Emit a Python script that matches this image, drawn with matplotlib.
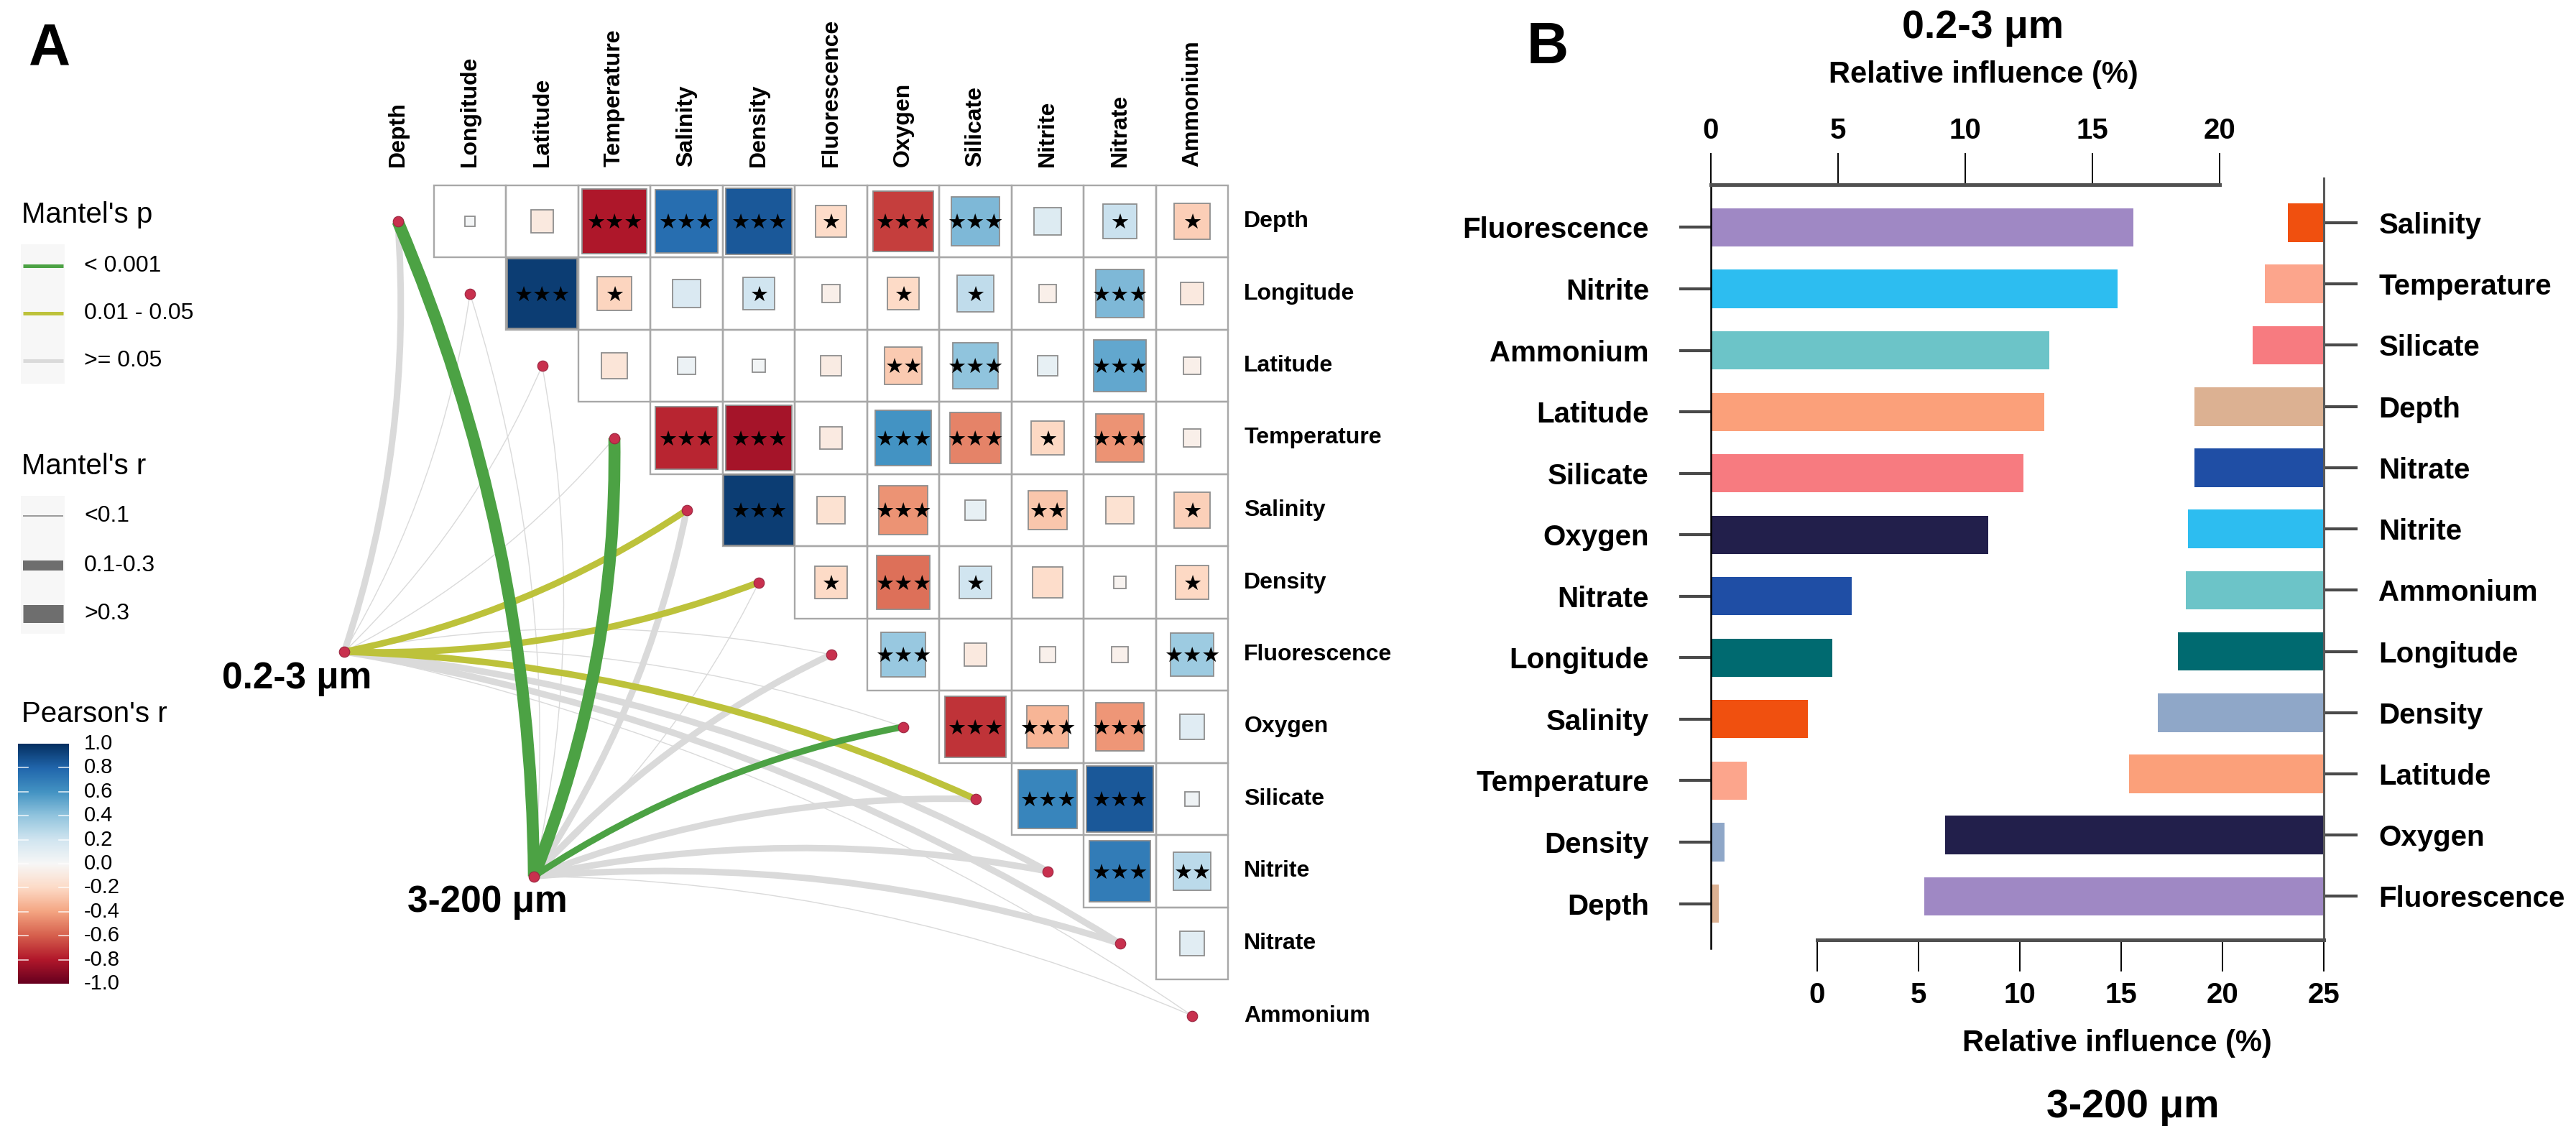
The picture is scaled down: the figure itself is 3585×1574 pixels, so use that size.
import numpy as np
import matplotlib
matplotlib.use('Agg')
import matplotlib.pyplot as plt
from matplotlib.path import Path
from matplotlib.patches import PathPatch, Rectangle

plt.rcParams['font.family'] = ['Liberation Sans', 'DejaVu Sans']

# ---------------- DATA ----------------
variables = ['Depth', 'Longitude', 'Latitude', 'Temperature', 'Salinity', 'Density',
             'Fluorescence', 'Oxygen', 'Silicate', 'Nitrite', 'Nitrate', 'Ammonium']

# Pearson's r, upper triangle: row i holds columns i+1 .. 11
r_rows = [
    [0.02, -0.10, -0.81, 0.76, 0.85, -0.19, -0.69, 0.45, 0.14, 0.22, -0.25],
    [0.95, -0.22, 0.15, 0.20, -0.06, -0.20, 0.25, -0.06, 0.45, -0.10],
    [-0.13, 0.06, 0.03, -0.08, -0.26, 0.40, 0.08, 0.52, -0.06],
    [-0.76, -0.83, -0.09, 0.60, -0.50, -0.21, -0.45, -0.06],
    [0.95, -0.15, -0.45, 0.08, -0.28, -0.15, -0.24],
    [-0.20, -0.55, 0.20, -0.18, -0.03, -0.21],
    [0.38, -0.10, -0.05, -0.05, 0.36],
    [-0.72, -0.34, -0.44, 0.12],
    [0.66, 0.85, 0.04],
    [0.70, 0.27],
    [0.11],
]
star_rows = [
    ['', '', '***', '***', '***', '*', '***', '***', '', '*', '*'],
    ['***', '*', '', '*', '', '*', '*', '', '***', ''],
    ['', '', '', '', '**', '***', '', '***', ''],
    ['***', '***', '', '***', '***', '*', '***', ''],
    ['***', '', '***', '', '**', '', '*'],
    ['*', '***', '*', '', '', '*'],
    ['***', '', '', '', '***'],
    ['***', '***', '***', ''],
    ['***', '***', ''],
    ['***', '**'],
    [''],
]

mantel_groups = ['0.2-3 μm', '3-200 μm']
mantel_p = {
    '0.2-3 μm': ['>=0.05', '>=0.05', '>=0.05', '>=0.05', '0.01-0.05', '0.01-0.05',
                 '>=0.05', '>=0.05', '0.01-0.05', '>=0.05', '>=0.05', '>=0.05'],
    '3-200 μm': ['<0.001', '>=0.05', '>=0.05', '<0.001', '>=0.05', '>=0.05',
                 '>=0.05', '<0.001', '>=0.05', '>=0.05', '>=0.05', '>=0.05'],
}
mantel_r = {
    '0.2-3 μm': ['0.1-0.3', '<0.1', '<0.1', '<0.1', '0.1-0.3', '0.1-0.3',
                 '<0.1', '<0.1', '0.1-0.3', '0.1-0.3', '0.1-0.3', '<0.1'],
    '3-200 μm': ['>0.3', '<0.1', '<0.1', '>0.3', '0.1-0.3', '<0.1',
                 '0.1-0.3', '0.1-0.3', '0.1-0.3', '0.1-0.3', '0.1-0.3', '<0.1'],
}

p_legend_labels = ['< 0.001', '0.01 - 0.05', '>= 0.05']
r_legend_labels = ['<0.1', '0.1-0.3', '>0.3']
cbar_ticks = [1.0, 0.8, 0.6, 0.4, 0.2, 0.0, -0.2, -0.4, -0.6, -0.8, -1.0]

# Panel B
small_vars = ['Fluorescence', 'Nitrite', 'Ammonium', 'Latitude', 'Silicate', 'Oxygen',
              'Nitrate', 'Longitude', 'Salinity', 'Temperature', 'Density', 'Depth']
small_vals = [16.6, 16.0, 13.3, 13.1, 12.3, 10.9, 5.55, 4.77, 3.8, 1.4, 0.55, 0.3]
large_vars = ['Salinity', 'Temperature', 'Silicate', 'Depth', 'Nitrate', 'Nitrite',
              'Ammonium', 'Longitude', 'Density', 'Latitude', 'Oxygen', 'Fluorescence']
large_vals = [1.77, 2.9, 3.5, 6.4, 6.4, 6.7, 6.8, 7.2, 8.2, 9.6, 18.7, 19.7]
top_ticks = [0, 5, 10, 15, 20]
bottom_ticks = [0, 5, 10, 15, 20, 25]

# ---------------- STYLE ----------------
var_colors = {
    'Fluorescence': '#9F88C4', 'Nitrite': '#2DBDF0', 'Ammonium': '#6CC4C8',
    'Latitude': '#FBA07A', 'Silicate': '#F77B80', 'Oxygen': '#221F4B',
    'Nitrate': '#1F4EA5', 'Longitude': '#006A70', 'Salinity': '#F0500F',
    'Temperature': '#FCA58C', 'Density': '#8FA7C8', 'Depth': '#DCB192',
}
p_colors = {'<0.001': '#4CA244', '0.01-0.05': '#BDC23B', '>=0.05': '#DADADA'}
p_keys = ['<0.001', '0.01-0.05', '>=0.05']
r_widths = {'<0.1': 1.0, '0.1-0.3': 6.5, '>0.3': 12.0}
r_keys = ['<0.1', '0.1-0.3', '>0.3']
dot_color = '#C8304E'

W, H, DPI = 3585, 1574, 100
fig = plt.figure(figsize=(W / DPI, H / DPI), dpi=DPI)
fig.patch.set_facecolor('white')


def fig_rect(x0, y0, x1, y1):
    return [x0 / W, 1 - y1 / H, (x1 - x0) / W, (y1 - y0) / H]


ax_f = fig.add_axes([0, 0, 1, 1])
ax_f.set_xlim(0, W)
ax_f.set_ylim(H, 0)
ax_f.axis('off')

# ---------------- PANEL A : heatmap ----------------
CELL = 100.5
hx0, hy0 = 503.25, 257.75
n = len(variables)
ax_h = fig.add_axes(fig_rect(hx0, hy0, hx0 + n * CELL, hy0 + n * CELL))
ax_h.set_xlim(-0.5, n - 0.5)
ax_h.set_ylim(n - 0.5, -0.5)
ax_h.axis('off')
ax_h.patch.set_alpha(0)

cmap = plt.get_cmap('RdBu')
for i, (vals, stars) in enumerate(zip(r_rows, star_rows)):
    for k, (r, s) in enumerate(zip(vals, stars)):
        j = i + 1 + k
        ax_h.add_patch(Rectangle((j - 0.5, i - 0.5), 1, 1, fill=False, ec='#A8A8A8',
                                 lw=1.7, zorder=2, clip_on=False))
        side = min(np.sqrt(abs(r)), 0.97)
        ax_h.add_patch(Rectangle((j - side / 2, i - side / 2), side, side,
                                 fc=cmap((r + 1) / 2), ec='#8E8E8E', lw=1.3,
                                 zorder=3, clip_on=False))
        if s:
            ax_h.text(j, i + 0.03, '★' * len(s), ha='center', va='center',
                      fontsize=21, color='black', zorder=4,
                      family=['DejaVu Sans'])

# Mantel links
nodes = {'0.2-3 μm': (-0.74, 5.96), '3-200 μm': (1.886, 9.07)}


def draw_link(p0, p1, sign, color, lw, z):
    p0 = np.asarray(p0, float)
    p1 = np.asarray(p1, float)
    d = p1 - p0
    nrm = np.array([-d[1], d[0]])
    ctrl = (p0 + p1) / 2 + sign * 0.1 * nrm
    path = Path([p0, ctrl, p1], [Path.MOVETO, Path.CURVE3, Path.CURVE3])
    ax_h.add_patch(PathPatch(path, fill=False, ec=color, lw=lw, zorder=z,
                             capstyle='butt', clip_on=False))


links = []
for g in mantel_groups:
    for idx in range(n):
        links.append((g, idx, mantel_p[g][idx], mantel_r[g][idx]))
for g, idx, pc, rc in links:
    sign = 1 if idx < 6 else -1
    z = 1.0 + (2 - p_keys.index(pc)) * 0.1 + r_keys.index(rc) * 0.01
    draw_link(nodes[g], (idx, idx), sign, p_colors[pc], r_widths[rc], z)

ax_h.scatter(range(n), range(n), s=110, c=dot_color, edgecolors='#9A2540',
             linewidths=0.8, zorder=5, clip_on=False)
for g in mantel_groups:
    ax_h.scatter([nodes[g][0]], [nodes[g][1]], s=110, c=dot_color, edgecolors='#9A2540',
                 linewidths=0.8, zorder=5, clip_on=False)

ax_h.text(-0.36, 6.33, mantel_groups[0], ha='right', va='center', fontsize=37,
          fontweight='bold', zorder=6)
ax_h.text(1.24, 9.43, mantel_groups[1], ha='center', va='center', fontsize=37,
          fontweight='bold', zorder=6)

for j, v in enumerate(variables):
    ax_h.text(j, -0.76, v, rotation=90, ha='center', va='bottom', fontsize=23,
              fontweight='bold')
    ax_h.text(11.72, j, v, ha='left', va='center', fontsize=23, fontweight='bold')

# ---------------- PANEL A : legends ----------------
ax_f.text(40, 89, 'A', fontsize=58, fontweight='bold', ha='left', va='baseline')

ax_f.text(30, 310, "Mantel's p", fontsize=29, ha='left', va='baseline')
ax_f.add_patch(Rectangle((29, 340), 61, 194, fc='#F7F7F7', ec='none'))
for yk, key, lab in zip([370, 436, 502], p_keys, p_legend_labels):
    ax_f.plot([32, 88], [yk, yk], color=p_colors[key], lw=3.6, solid_capstyle='butt')
    ax_f.text(117, yk, lab, fontsize=23, ha='left', va='center')

ax_f.text(30, 660, "Mantel's r", fontsize=29, ha='left', va='baseline')
ax_f.add_patch(Rectangle((29, 690), 61, 192, fc='#F7F7F7', ec='none'))
for yk, key, lab, lwk in zip([718, 787, 854], r_keys, r_legend_labels, [1.4, 10, 18]):
    ax_f.plot([32, 88], [yk, yk], color='#6E6E6E' if key != '<0.1' else '#9A9A9A',
              lw=lwk, solid_capstyle='butt')
    ax_f.text(117, yk, lab, fontsize=23, ha='left', va='center')

ax_f.text(30, 1005, "Pearson's r", fontsize=29, ha='left', va='baseline')
cb_top, cb_bot, cb_l, cb_r = 1035, 1369, 25, 96
ax_c = fig.add_axes(fig_rect(cb_l, cb_top, cb_r, cb_bot))
grad = np.linspace(-1, 1, 256)[:, None]
ax_c.imshow(grad, cmap=cmap, vmin=-1, vmax=1, aspect='auto', extent=[0, 1, -1, 1],
            origin='lower')
ax_c.set_xlim(0, 1)
ax_c.set_ylim(-1, 1)
ax_c.axis('off')
for v in cbar_ticks:
    if abs(v) < 1:
        ax_c.plot([0, 0.2], [v, v], color='white', lw=1.2, alpha=0.8)
        ax_c.plot([0.8, 1], [v, v], color='white', lw=1.2, alpha=0.8)
    yv = cb_top + (1 - v) / 2 * (cb_bot - cb_top)
    ax_f.text(117, yv, f'{v:.1f}', fontsize=21, ha='left', va='center')

# ---------------- PANEL B ----------------
ax_f.text(2125, 88, 'B', fontsize=58, fontweight='bold', ha='left', va='baseline')

# left (0.2-3 um)
ax_l = fig.add_axes(fig_rect(2381, 257, 3089, 1320))
ax_l.patch.set_alpha(0)
ax_l.set_xlim(0, 20)
ax_l.set_ylim(11.73, -0.695)
ax_l.barh(range(len(small_vars)), small_vals, height=0.62,
          color=[var_colors[v] for v in small_vars], zorder=1)
for s in ['right', 'bottom']:
    ax_l.spines[s].set_visible(False)
ax_l.spines['top'].set_linewidth(3.6)
ax_l.spines['top'].set_color('#505050')
ax_l.spines['left'].set_linewidth(1.8)
ax_l.spines['left'].set_color('black')
ax_l.xaxis.tick_top()
ax_l.set_xticks(top_ticks)
ax_l.set_xticklabels([str(t) for t in top_ticks], fontsize=29, fontweight='bold')
ax_l.tick_params(axis='x', direction='out', length=32, width=1.4, color='black', pad=8)
ax_l.set_yticks(range(len(small_vars)))
ax_l.set_yticklabels(small_vars, fontsize=29, fontweight='bold')
ax_l.tick_params(axis='y', direction='out', length=32, width=3, color='#4A4A4A', pad=30)

# right (3-200 um)
ax_r = fig.add_axes(fig_rect(2529, 248, 3234, 1308))
ax_r.patch.set_alpha(0)
ax_r.set_xlim(0, 25)
ax_r.set_ylim(11.71, -0.728)
ax_r.barh(range(len(large_vars)), [-v for v in large_vals], left=25, height=0.63,
          color=[var_colors[v] for v in large_vars], zorder=1)
for s in ['left', 'top']:
    ax_r.spines[s].set_visible(False)
ax_r.spines['bottom'].set_linewidth(3.6)
ax_r.spines['bottom'].set_color('#505050')
ax_r.spines['right'].set_linewidth(2.2)
ax_r.spines['right'].set_color('#5A5A5A')
ax_r.set_xticks(bottom_ticks)
ax_r.set_xticklabels([str(t) for t in bottom_ticks], fontsize=29, fontweight='bold')
ax_r.tick_params(axis='x', direction='out', length=32, width=1.4, color='black', pad=10)
ax_r.yaxis.tick_right()
ax_r.set_yticks(range(len(large_vars)))
ax_r.set_yticklabels(large_vars, fontsize=29, fontweight='bold')
ax_r.tick_params(axis='y', direction='out', length=34, width=3, color='#4A4A4A', pad=21)

ax_f.text(2760, 53, '0.2-3 μm', fontsize=40, fontweight='bold', ha='center', va='baseline')
ax_f.text(2760, 115, 'Relative influence (%)', fontsize=30, fontweight='bold',
          ha='center', va='baseline')
ax_f.text(2946, 1463, 'Relative influence (%)', fontsize=30, fontweight='bold',
          ha='center', va='baseline')
ax_f.text(2968, 1555, '3-200 μm', fontsize=40, fontweight='bold', ha='center', va='baseline')

fig.savefig('out.png', dpi=DPI, facecolor='white')
